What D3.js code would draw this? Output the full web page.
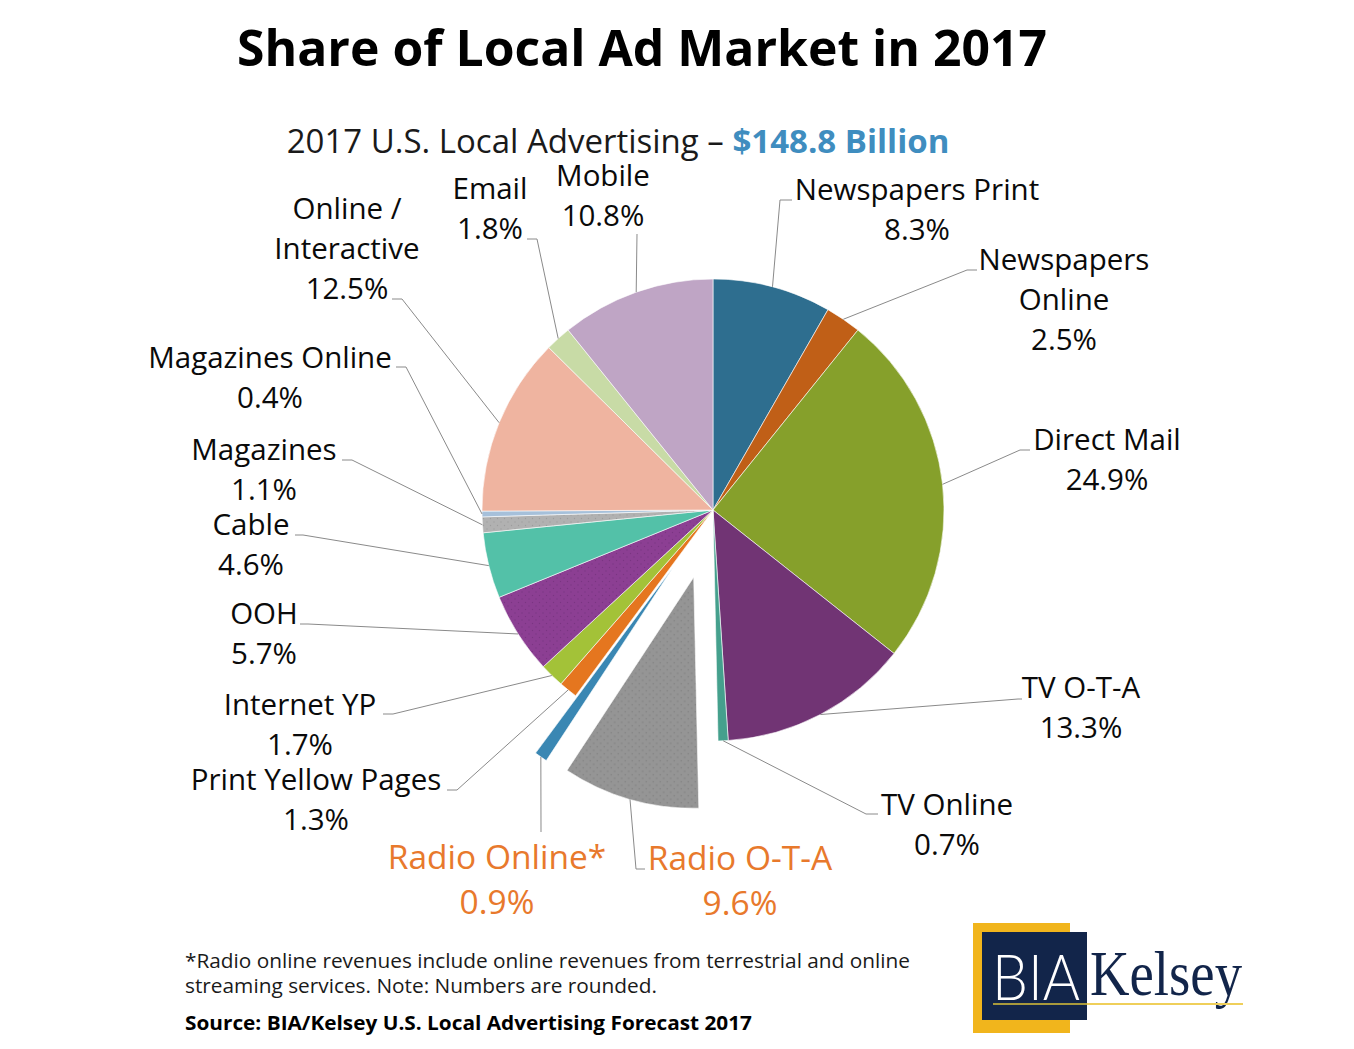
<!DOCTYPE html>
<html><head><meta charset="utf-8">
<script src="https://cdn.jsdelivr.net/npm/d3@7"></script>
<style>body{margin:0;background:#fff}svg{display:block}</style>
</head><body><svg id="c" width="1354" height="1049"></svg>
<script>
// ---------- data ----------
const categories = ["Newspapers Print","Newspapers|Online","Direct Mail","TV O-T-A","TV Online","Radio O-T-A","Radio Online*","Print Yellow Pages","Internet YP","OOH","Cable","Magazines","Magazines Online","Online /|Interactive","Email","Mobile"];
const shares = [8.3,2.5,24.9,13.3,0.7,9.6,0.9,1.3,1.7,5.7,4.6,1.1,0.4,12.5,1.8,10.8];
const highlighted = ["Radio O-T-A","Radio Online*"];
const sliceColors = ["#2e6e8f","#c05f17","#86a02b","#713474","#45a08d","#959595","#3a87b3","#e5761f","#a3c238","#8c3f93","#53c1a8","#b1b1b1","#a6c0da","#efb4a0","#c8dba6","#bfa5c5"];
const titleText = "Share of Local Ad Market in 2017";
const subtitleText = "2017 U.S. Local Advertising \u2013 ";
const subtitleValue = "$148.8 Billion";
const footnoteLines = ["*Radio online revenues include online revenues from terrestrial and online","streaming services. Note: Numbers are rounded."];
const sourceText = "Source: BIA/Kelsey U.S. Local Advertising Forecast 2017";

// ---------- layout (label placement) ----------
const labelLayout = [
  {x:917, y:200, pts:[[780,200],[792,200]]},
  {x:1064,y:270, pts:[[967,270],[977,270]]},
  {x:1107,y:450, pts:[[1020,450],[1030,450]]},
  {x:1081,y:698, pts:[[1018,699],[1022,699]]},
  {x:947, y:815, pts:[[866,814],[878,814]]},
  {x:740, y:870, pts:[[636,869],[645,869]]},
  {x:497, y:869, pts:[[541,832]]},
  {x:316, y:790, pts:[[457,790],[447,790]]},
  {x:300, y:715, pts:[[393,714],[383,714]]},
  {x:264, y:624, pts:[[308,624],[300,624]]},
  {x:251, y:535, pts:[[303,535],[295,535]]},
  {x:264, y:460, pts:[[352,460],[342,460]]},
  {x:270, y:368, pts:[[406,367],[396,367]]},
  {x:347, y:219, pts:[[402,299],[392,299]]},
  {x:490, y:199, pts:[[537,239],[527,239]]},
  {x:603, y:186, pts:[[637,234]]}
];

const svg = d3.select("#c");
const cx = 713, cy = 510, R = 231, explode = 70;

// patterns
const defs = svg.append("defs");
function dotPattern(id, bg, dot){
  const p = defs.append("pattern").attr("id",id).attr("patternUnits","userSpaceOnUse").attr("width",7).attr("height",7);
  p.append("rect").attr("width",7).attr("height",7).attr("fill",bg);
  p.append("circle").attr("cx",1.5).attr("cy",1.5).attr("r",0.7).attr("fill",dot);
  p.append("circle").attr("cx",5).attr("cy",5).attr("r",0.7).attr("fill",dot);
}
dotPattern("dotGray","#959595","#7d7d7d");
dotPattern("dotPurple","#8c3f93","#7a3582");
dotPattern("dotLGray","#b1b1b1","#9d9d9d");
const fillFor = (i) => i===5 ? "url(#dotGray)" : i===9 ? "url(#dotPurple)" : i===11 ? "url(#dotLGray)" : sliceColors[i];

// title
svg.append("text").attr("x",642).attr("y",66).attr("text-anchor","middle")
  .attr("font-family","'Open Sans', sans-serif").attr("font-weight",700).attr("font-size",50.5)
  .attr("textLength",810).attr("lengthAdjust","spacingAndGlyphs")
  .attr("fill","#000").text(titleText);

const sub = svg.append("text").attr("x",618).attr("y",153).attr("text-anchor","middle")
  .attr("font-family","'Open Sans', sans-serif").attr("font-size",33).attr("fill","#1a1a1a");
sub.append("tspan").text(subtitleText);
sub.append("tspan").attr("font-weight",700).attr("fill","#3f8dbf").text(subtitleValue);

// pie
const pie = d3.pie().sort(null).value(d=>d).startAngle(0).endAngle(2*Math.PI);
const arcs = pie(shares);
const arc = d3.arc().innerRadius(0).outerRadius(R);
const g = svg.append("g").attr("transform",`translate(${cx},${cy})`);

const offsetOf = (d,i) => {
  if (!highlighted.includes(categories[i])) return [0,0];
  const a = (d.startAngle+d.endAngle)/2;
  return [explode*Math.sin(a), -explode*Math.cos(a)];
};

g.selectAll("path.slice").data(arcs).join("path").attr("class","slice")
  .attr("d",arc)
  .attr("transform",(d,i)=>{const o=offsetOf(d,i);return `translate(${o[0]},${o[1]})`;})
  .attr("fill",(d,i)=>fillFor(i))
  .attr("stroke","#fff").attr("stroke-width",0.6);

// leader lines
const leaders = svg.append("g");
arcs.forEach((d,i)=>{
  const a = (d.startAngle+d.endAngle)/2;
  const rr = R + (highlighted.includes(categories[i]) ? explode : 0);
  const start = [cx + rr*Math.sin(a), cy - rr*Math.cos(a)];
  const pts = [start, ...labelLayout[i].pts];
  leaders.append("path").attr("d", d3.line()(pts))
    .attr("fill","none").attr("stroke","#8a8a8a").attr("stroke-width",1);
});

// labels
const lab = svg.append("g").attr("font-family","'Open Sans', sans-serif");
categories.forEach((c,i)=>{
  const hl = highlighted.includes(c);
  const lines = c.split("|").concat([shares[i].toFixed(1)+"%"]);
  const fs = hl ? 33.5 : 29.5;
  const lh = hl ? 45 : 40;
  const t = lab.append("text").attr("text-anchor","middle")
    .attr("font-size",fs).attr("font-weight",500).attr("fill", hl ? "#e8792c" : "#0a0a0a");
  lines.forEach((ln,k)=>{
    t.append("tspan").attr("x",labelLayout[i].x).attr("y",labelLayout[i].y + k*lh).text(ln);
  });
});

// footnotes
const fn = svg.append("g").attr("font-family","'Open Sans', sans-serif").attr("fill","#1a1a1a");
fn.append("text").attr("x",185).attr("y",968).attr("font-size",20)
  .attr("textLength",725).attr("lengthAdjust","spacingAndGlyphs").text(footnoteLines[0]);
fn.append("text").attr("x",185).attr("y",993).attr("font-size",20)
  .attr("textLength",472).attr("lengthAdjust","spacingAndGlyphs").text(footnoteLines[1]);
fn.append("text").attr("x",185).attr("y",1030).attr("font-size",20).attr("font-weight",700).attr("fill","#000")
  .attr("textLength",567).attr("lengthAdjust","spacingAndGlyphs").text(sourceText);

// logo
const logo = svg.append("g");
logo.append("rect").attr("x",973).attr("y",923).attr("width",97).attr("height",110).attr("fill","#f1b51c");
logo.append("rect").attr("x",982).attr("y",932).attr("width",105).attr("height",88).attr("fill","#12254a");
logo.append("text").attr("x",992).attr("y",1000).attr("font-family","Lato, 'Open Sans', sans-serif")
  .attr("font-size",64).attr("font-weight",300).attr("fill","#fff").attr("textLength",88).attr("lengthAdjust","spacingAndGlyphs").text("BIA");
logo.append("text").attr("x",1090).attr("y",995).attr("font-family","'Liberation Serif', 'DejaVu Serif', serif")
  .attr("font-size",64).attr("fill","#12254a").attr("textLength",152).attr("lengthAdjust","spacingAndGlyphs").text("Kelsey");
logo.append("line").attr("x1",993).attr("x2",1087).attr("y1",1004).attr("y2",1004).attr("stroke","#a89a3c").attr("stroke-width",2);
logo.append("line").attr("x1",1087).attr("x2",1243).attr("y1",1004).attr("y2",1004).attr("stroke","#efcf5a").attr("stroke-width",2);
</script></body></html>
